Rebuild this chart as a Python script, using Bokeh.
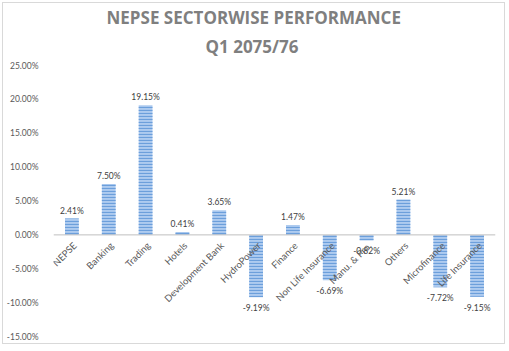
import math
from bokeh.plotting import figure
from bokeh.models import FactorRange, Range1d, FixedTicker, PrintfTickFormatter, Span, Title
from bokeh.core.properties import value
from bokeh.embed import file_html
from bokeh.resources import INLINE

categories = ["NEPSE", "Banking", "Trading", "Hotels", "Development Bank", "HydroPower",
              "Finance", "Non Life Insurance", "Manu. & Pro.", "Others", "Microfinance",
              "Life Insurance"]
returns_pct = [2.41, 7.50, 19.15, 0.41, 3.65, -9.19, 1.47, -6.69, -0.82, 5.21, -7.72, -9.15]
y_ticks = [-15, -10, -5, 0, 5, 10, 15, 20, 25]
title_line1 = "NEPSE SECTORWISE PERFORMANCE"
title_line2 = "Q1 2075/76"

FONT = "Lato"
TXT = "#595959"

p = figure(x_range=FactorRange(factors=categories, range_padding=0),
           y_range=Range1d(-15, 25),
           width=503, height=342,
           output_backend="svg", toolbar_location=None,
           min_border_left=45, min_border_right=11,
           min_border_bottom=9, min_border_top=62,
           title=title_line1)
p.margin = (2, 0, 0, 2)
p.styles = {"border": "1px solid #d9d9d9"}

p.title.align = "left"
p.title.offset = 53
p.title.text_font = "Open Sans"
p.title.text_font_size = "17px"
p.title.text_font_style = "bold"
p.title.text_color = "#7f7f7f"
p.title.standoff = -8

t2 = Title(text=title_line2, align="left", offset=152, text_font="Open Sans",
           text_font_size="17px", text_font_style="bold", text_color="#7f7f7f", standoff=16)
p.add_layout(t2, "above")

p.vbar(x=categories, top=returns_pct, width=0.375, bottom=0,
       fill_color="#aecbef", line_color=None,
       hatch_pattern="horizontal_line", hatch_color="#6c9fdb",
       hatch_scale=3, hatch_weight=1.2)

p.add_layout(Span(location=0, dimension="width", line_color="#bfbfbf", line_width=1))

labels = [f"{v:.2f}%" for v in returns_pct]
pos_x = [c for c, v in zip(categories, returns_pct) if v >= 0]
pos_y = [v for v in returns_pct if v >= 0]
pos_t = [l for l, v in zip(labels, returns_pct) if v >= 0]
neg_x = [c for c, v in zip(categories, returns_pct) if v < 0]
neg_y = [v for v in returns_pct if v < 0]
neg_t = [l for l, v in zip(labels, returns_pct) if v < 0]

p.text(x=pos_x, y=pos_y, text=pos_t, text_align="center", text_baseline="bottom",
       y_offset=-3, text_font=value(FONT), text_font_size="8.5px", text_color="#404040")
p.text(x=neg_x, y=neg_y, text=neg_t, text_align="center", text_baseline="top",
       y_offset=6, text_font=value(FONT), text_font_size="8.5px", text_color="#404040")

p.text(x=categories, y=[0] * len(categories), text=categories, angle=math.pi / 4,
       text_align="right", text_baseline="middle", x_offset=3, y_offset=9,
       text_font=value(FONT), text_font_size="9.5px", text_color=TXT)

p.xaxis.visible = False
p.xgrid.visible = False
p.ygrid.visible = False
p.outline_line_color = None

ax = p.yaxis[0]
ax.ticker = FixedTicker(ticks=y_ticks)
ax.formatter = PrintfTickFormatter(format="%.2f%%")
ax.axis_line_color = None
ax.major_tick_line_color = None
ax.minor_tick_line_color = None
ax.major_label_standoff = 9
ax.major_label_text_font = FONT
ax.major_label_text_font_size = "8.5px"
ax.major_label_text_color = TXT

open("out.html", "w").write(file_html(p, INLINE))
